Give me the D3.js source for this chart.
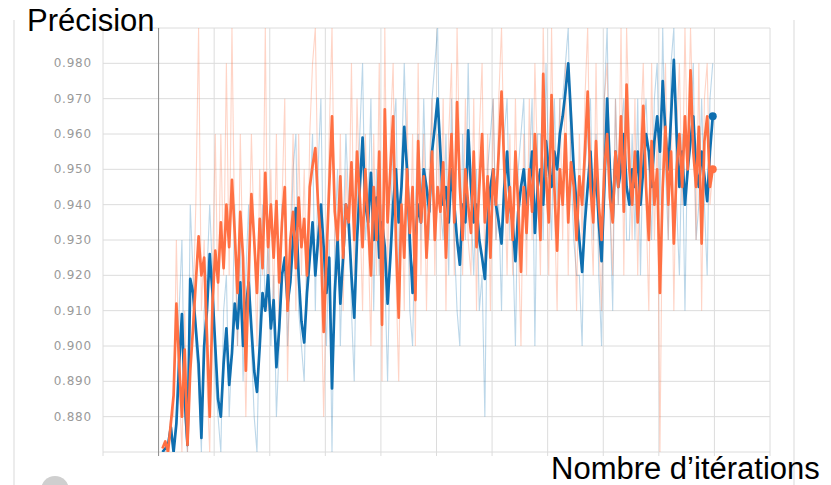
<!DOCTYPE html>
<html>
<head>
<meta charset="utf-8">
<script src="https://cdn.jsdelivr.net/npm/d3@7"></script>
<style>
  body { margin: 0; background: #fff; }
  svg { display: block; font-family: "Liberation Sans", Arial, sans-serif; }
</style>
</head>
<body>
<svg id="chart" width="831" height="485"></svg>
<script>
// précision lissée (courbes foncées), un point toutes les 50 itérations
const startIter = 70, stepIter = 50;

const orangeSmooth = [
  0.871, 0.873, 0.870, 0.878, 0.886, 0.912, 0.895, 0.880, 0.899, 0.872,
  0.893, 0.905, 0.918, 0.931, 0.920, 0.925, 0.903, 0.880, 0.912, 0.927,
  0.918, 0.935, 0.922, 0.940, 0.928, 0.947, 0.932, 0.915, 0.938, 0.925,
  0.893, 0.920, 0.943, 0.930, 0.915, 0.936, 0.922, 0.949, 0.928, 0.940,
  0.925, 0.941, 0.918, 0.935, 0.945, 0.910, 0.930, 0.938, 0.922, 0.942,
  0.928, 0.936, 0.920, 0.945, 0.951, 0.956, 0.940, 0.930, 0.904, 0.925,
  0.945, 0.965, 0.938, 0.930, 0.948, 0.925, 0.940, 0.935, 0.952, 0.930,
  0.955, 0.942, 0.928, 0.950, 0.935, 0.920, 0.945, 0.930, 0.955, 0.906,
  0.967, 0.935, 0.950, 0.965, 0.930, 0.908, 0.940, 0.925, 0.950, 0.932,
  0.945, 0.913, 0.958, 0.935, 0.948, 0.925, 0.940, 0.955, 0.930, 0.945,
  0.938, 0.952, 0.925, 0.945, 0.960, 0.935, 0.969, 0.945, 0.930, 0.950,
  0.940, 0.932, 0.955, 0.928, 0.945, 0.960, 0.935, 0.948, 0.925, 0.950,
  0.940, 0.955, 0.972, 0.950, 0.935, 0.945, 0.930, 0.955, 0.940, 0.921,
  0.945, 0.932, 0.950, 0.938, 0.960, 0.945, 0.930, 0.977, 0.948, 0.935,
  0.971, 0.945, 0.927, 0.950, 0.940, 0.960, 0.935, 0.952, 0.945, 0.930,
  0.948, 0.940, 0.955, 0.972, 0.945, 0.935, 0.958, 0.940, 0.930, 0.950,
  0.960, 0.942, 0.935, 0.955, 0.945, 0.965, 0.938, 0.974, 0.950, 0.940,
  0.955, 0.935, 0.948, 0.968, 0.945, 0.930, 0.958, 0.940, 0.950, 0.915,
  0.945, 0.962, 0.940, 0.955, 0.929, 0.950, 0.960, 0.945, 0.965, 0.950,
  0.978, 0.955, 0.945, 0.962, 0.929, 0.958, 0.965, 0.945, 0.950
];

const blueSmooth = [
  0.870, 0.871, 0.872, 0.877, 0.870, 0.878, 0.895, 0.909, 0.885, 0.872,
  0.919, 0.915, 0.905, 0.895, 0.874, 0.900, 0.910, 0.926, 0.915, 0.900,
  0.885, 0.880, 0.895, 0.905, 0.889, 0.898, 0.912, 0.905, 0.918, 0.900,
  0.911, 0.918, 0.905, 0.893, 0.887, 0.900, 0.915, 0.910, 0.920, 0.905,
  0.913, 0.894, 0.905, 0.920, 0.925, 0.912, 0.918, 0.930, 0.939, 0.920,
  0.907, 0.901, 0.915, 0.925, 0.935, 0.920, 0.930, 0.940, 0.928, 0.915,
  0.925, 0.888, 0.915, 0.930, 0.912, 0.925, 0.940, 0.935, 0.920, 0.908,
  0.930, 0.945, 0.959, 0.940, 0.935, 0.949, 0.930, 0.942, 0.925, 0.935,
  0.928, 0.912, 0.925, 0.940, 0.950, 0.935, 0.945, 0.962, 0.950, 0.930,
  0.915, 0.930, 0.940, 0.935, 0.950, 0.945, 0.938, 0.955, 0.962, 0.970,
  0.955, 0.940, 0.945, 0.935, 0.950, 0.940, 0.930, 0.923, 0.940, 0.935,
  0.961, 0.945, 0.935, 0.940, 0.930, 0.925, 0.919, 0.935, 0.945, 0.950,
  0.940, 0.935, 0.929, 0.945, 0.955, 0.940, 0.935, 0.924, 0.938, 0.945,
  0.950, 0.940, 0.945, 0.955, 0.932, 0.945, 0.950, 0.940, 0.958, 0.950,
  0.945, 0.955, 0.950, 0.960, 0.965, 0.972, 0.980, 0.965, 0.950, 0.940,
  0.930, 0.921, 0.935, 0.945, 0.955, 0.940, 0.950, 0.935, 0.924, 0.945,
  0.970, 0.950, 0.936, 0.955, 0.945, 0.950, 0.960, 0.945, 0.940, 0.950,
  0.945, 0.955, 0.940, 0.950, 0.960, 0.955, 0.945, 0.958, 0.965, 0.955,
  0.975, 0.960, 0.950, 0.965, 0.981, 0.960, 0.945, 0.955, 0.940, 0.950,
  0.958, 0.965, 0.950, 0.945, 0.955, 0.948, 0.941, 0.955, 0.965
];

// précision brute (courbes pâles), en pourcentage
const orangeRawPct = [
  87, 87, 87, 88, 88, 93, 89, 87, 91, 87,
  89, 91, 94, 99, 91, 93, 89, 87, 92, 96,
  91, 96, 92, 98, 92, 99, 93, 90, 96, 92,
  88, 92, 96, 93, 90, 95, 92, 99, 91, 95,
  91, 96, 90, 94, 97, 89, 93, 96, 91, 96,
  92, 95, 91, 96, 98, 99, 94, 92, 88, 92,
  96, 99, 93, 92, 96, 91, 95, 93, 98, 92,
  97, 94, 91, 96, 93, 90, 96, 92, 98, 89,
  99, 92, 96, 98, 92, 89, 95, 91, 97, 92,
  96, 90, 98, 92, 96, 91, 95, 97, 92, 96,
  93, 97, 91, 96, 98, 92, 99, 95, 92, 97,
  93, 92, 97, 91, 96, 98, 92, 96, 91, 97,
  93, 97, 99, 95, 92, 96, 92, 97, 93, 90,
  96, 92, 97, 93, 98, 95, 92, 99, 95, 92,
  99, 94, 91, 97, 93, 98, 92, 97, 95, 91,
  96, 93, 97, 99, 94, 92, 98, 93, 91, 97,
  98, 94, 92, 97, 94, 99, 92, 99, 96, 93,
  97, 92, 96, 98, 94, 91, 98, 93, 96, 87,
  95, 98, 93, 97, 91, 96, 98, 94, 99, 95,
  99, 96, 93, 98, 91, 97, 98, 94, 95
];

const blueRawPct = [
  87, 87, 87, 88, 87, 88, 91, 93, 88, 87,
  94, 92, 90, 89, 87, 91, 92, 94, 92, 89,
  88, 87, 91, 92, 88, 90, 94, 90, 93, 89,
  92, 94, 90, 88, 87, 91, 94, 91, 93, 90,
  92, 88, 90, 94, 94, 90, 92, 95, 96, 91,
  90, 89, 93, 94, 96, 91, 95, 97, 92, 90,
  93, 87, 93, 95, 90, 93, 96, 94, 91, 89,
  94, 96, 98, 93, 94, 97, 91, 95, 92, 94,
  92, 89, 93, 96, 97, 92, 95, 98, 95, 91,
  90, 94, 96, 93, 97, 94, 93, 97, 98, 99,
  94, 93, 96, 92, 97, 93, 91, 90, 96, 93,
  98, 94, 92, 95, 91, 92, 88, 95, 96, 97,
  93, 94, 91, 96, 97, 93, 93, 90, 95, 96,
  97, 93, 95, 97, 90, 96, 96, 93, 98, 95,
  93, 97, 94, 97, 97, 98, 99, 95, 93, 92,
  92, 90, 95, 96, 97, 93, 96, 92, 90, 97,
  99, 94, 91, 97, 94, 96, 97, 93, 93, 96,
  93, 97, 92, 96, 97, 95, 93, 97, 98, 94,
  99, 95, 93, 98, 99, 94, 92, 96, 91, 96,
  96, 98, 93, 94, 97, 94, 92, 97, 98
];

const yTicks = [0.88, 0.89, 0.90, 0.91, 0.92, 0.93, 0.94, 0.95, 0.96, 0.97, 0.98];
const xGrid = [-1000, 0, 1000, 2000, 3000, 4000, 5000, 6000, 7000, 8000, 9000, 10000, 11000];

const orange = '#ff7043', blue = '#0f6fb0';

const svg = d3.select('#chart');
const plotL = 103, plotR = 770, plotT = 28, plotB = 452;   // zone du graphe

const x = d3.scaleLinear().domain([-1000, 11000]).range([plotL, plotR]);
const y = d3.scaleLinear().domain([0.87, 0.99]).range([plotB, plotT]);

// cadres gris clair (bord de la carte)
svg.append('line').attr('x1', 14).attr('x2', 14).attr('y1', 20).attr('y2', 485)
  .attr('stroke', '#ececec').attr('stroke-width', 2);
svg.append('line').attr('x1', 794).attr('x2', 794).attr('y1', 20).attr('y2', 485)
  .attr('stroke', '#ececec').attr('stroke-width', 2);

// grille horizontale
svg.append('g').selectAll('line')
  .data(yTicks.concat([0.99, 0.87]))
  .join('line')
  .attr('x1', plotL).attr('x2', plotR)
  .attr('y1', d => y(d)).attr('y2', d => y(d))
  .attr('stroke', '#dcdcdc').attr('stroke-width', 1);

// grille verticale + petites graduations en bas
svg.append('g').selectAll('line')
  .data(xGrid)
  .join('line')
  .attr('x1', d => x(d)).attr('x2', d => x(d))
  .attr('y1', plotT).attr('y2', plotB + 4)
  .attr('stroke', d => d === 0 ? '#8a8a8a' : '#dcdcdc')
  .attr('stroke-width', 1);

// étiquettes de l'axe y
svg.append('g').selectAll('text')
  .data(yTicks)
  .join('text')
  .attr('x', 92)
  .attr('y', d => y(d))
  .attr('text-anchor', 'end')
  .attr('dominant-baseline', 'central')
  .style('font-family', '"DejaVu Sans", sans-serif')
  .style('font-size', '12px')
  .style('letter-spacing', '0.8px')
  .attr('fill', '#9a9a9a')
  .text(d => d3.format('.3f')(d));

svg.append('clipPath').attr('id', 'plot-clip')
  .append('rect').attr('x', plotL).attr('y', plotT)
  .attr('width', plotR - plotL).attr('height', plotB - plotT);

const plot = svg.append('g').attr('clip-path', 'url(#plot-clip)');
const iter = i => startIter + i * stepIter;

const line = d3.line().x((d, i) => x(iter(i))).y(d => y(d));

// courbes brutes (pâles)
plot.append('path').datum(blueRawPct.map(v => v / 100))
  .attr('d', line).attr('fill', 'none')
  .attr('stroke', blue).attr('stroke-opacity', 0.28).attr('stroke-width', 1.1);
plot.append('path').datum(orangeRawPct.map(v => v / 100))
  .attr('d', line).attr('fill', 'none')
  .attr('stroke', orange).attr('stroke-opacity', 0.3).attr('stroke-width', 1.1);

// courbes lissées
plot.append('path').datum(blueSmooth)
  .attr('d', line).attr('fill', 'none')
  .attr('stroke', blue).attr('stroke-width', 2.7).attr('stroke-linejoin', 'round');
plot.append('path').datum(orangeSmooth)
  .attr('d', line).attr('fill', 'none')
  .attr('stroke', orange).attr('stroke-width', 2.7).attr('stroke-linejoin', 'round');

// points de fin
svg.append('circle')
  .attr('cx', x(iter(blueSmooth.length - 1))).attr('cy', y(blueSmooth[blueSmooth.length - 1]))
  .attr('r', 4).attr('fill', blue);
svg.append('circle')
  .attr('cx', x(iter(orangeSmooth.length - 1))).attr('cy', y(orangeSmooth[orangeSmooth.length - 1]))
  .attr('r', 4).attr('fill', orange);

// bouton gris en bas à gauche
svg.append('circle').attr('cx', 55).attr('cy', 490).attr('r', 14).attr('fill', '#cfcfcf');

// titres des axes
svg.append('text')
  .attr('x', 27).attr('y', 31)
  .style('font-size', '31px')
  .attr('fill', '#000')
  .text('Précision');

svg.append('text')
  .attr('x', 551).attr('y', 479)
  .style('font-size', '31px')
  .attr('fill', '#000')
  .text('Nombre d’itérations');
</script>
</body>
</html>
